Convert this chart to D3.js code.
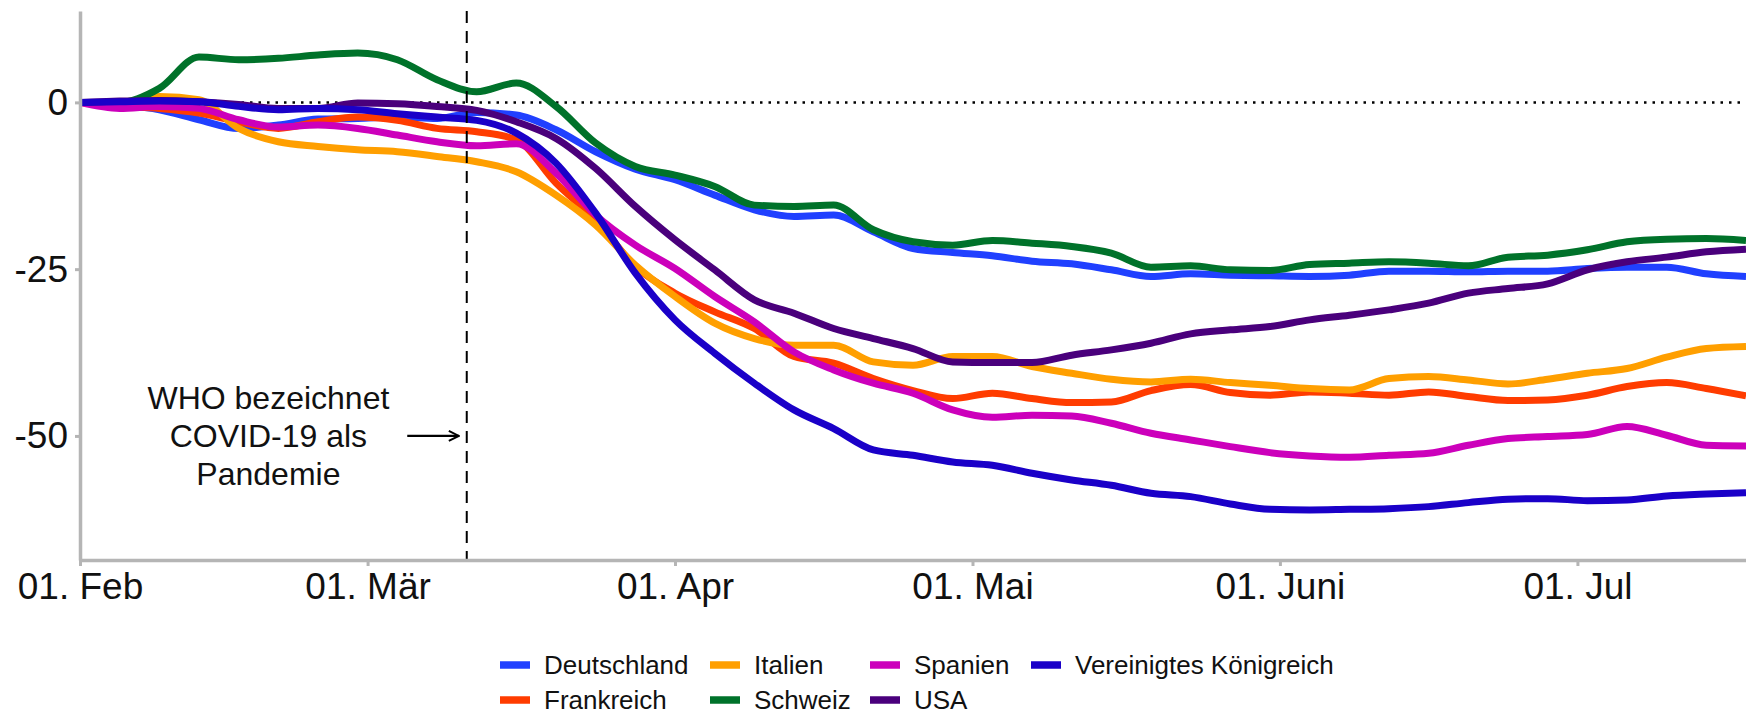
<!DOCTYPE html>
<html>
<head>
<meta charset="utf-8">
<script src="https://cdn.jsdelivr.net/npm/d3@7"></script>
<style>
  body { margin: 0; background: #fff; }
  svg { display: block; font-family: "Liberation Sans", Arial, sans-serif; }
</style>
</head>
<body>
<div id="chart"></div>
<script>
// dates of the readings (every 4 days)
var dates = ["2020-02-01","2020-02-05","2020-02-09","2020-02-13","2020-02-17","2020-02-21","2020-02-25","2020-02-29",
  "2020-03-04","2020-03-08","2020-03-12","2020-03-16","2020-03-20","2020-03-24","2020-03-28","2020-04-01",
  "2020-04-05","2020-04-09","2020-04-13","2020-04-17","2020-04-21","2020-04-25","2020-04-29","2020-05-03",
  "2020-05-07","2020-05-11","2020-05-15","2020-05-19","2020-05-23","2020-05-27","2020-05-31","2020-06-04",
  "2020-06-08","2020-06-12","2020-06-16","2020-06-20","2020-06-24","2020-06-28","2020-07-02","2020-07-06",
  "2020-07-10","2020-07-14","2020-07-18"];

var deutschland = [0,-0.4,-1.1,-2.6,-3.9,-3.4,-2.5,-2.4,-2.2,-2.4,-1.5,-1.9,-4.1,-7.4,-10.0,-11.6,
  -13.9,-16.1,-17.1,-16.9,-19.4,-21.9,-22.5,-23.0,-23.8,-24.2,-25.1,-26.1,-25.7,-25.9,-26.0,-26.1,
  -25.9,-25.3,-25.3,-25.4,-25.3,-25.3,-24.9,-24.7,-24.7,-25.7,-26.1];
var frankreich = [0,-0.6,-0.9,-1.6,-2.9,-3.9,-2.9,-2.2,-2.7,-3.9,-4.4,-5.6,-12.1,-17.6,-24.6,-28.6,
  -31.4,-33.9,-38.1,-39.1,-41.4,-43.2,-44.4,-43.6,-44.4,-45.0,-44.9,-43.2,-42.3,-43.5,-43.9,-43.4,
  -43.6,-43.9,-43.4,-44.1,-44.7,-44.6,-43.9,-42.6,-42.0,-42.9,-44.0];
var italien = [0,-0.6,0.9,0.4,-3.9,-5.9,-6.6,-7.1,-7.4,-8.1,-8.9,-10.4,-13.9,-18.4,-24.4,-29.1,
  -33.1,-35.4,-36.4,-36.4,-38.9,-39.4,-38.1,-38.1,-39.6,-40.6,-41.5,-41.9,-41.5,-42.0,-42.4,-42.9,
  -43.1,-41.4,-41.1,-41.6,-42.2,-41.5,-40.6,-39.9,-38.2,-36.9,-36.6];
var schweiz = [0,0,2.1,6.8,6.4,6.6,7.1,7.4,6.4,3.4,1.6,2.9,-0.6,-6.1,-9.6,-10.9,
  -12.6,-15.4,-15.6,-15.4,-19.1,-20.9,-21.4,-20.7,-21.1,-21.6,-22.6,-24.7,-24.5,-25.1,-25.2,-24.3,
  -24.1,-23.9,-24.1,-24.5,-23.2,-22.9,-22.1,-20.9,-20.5,-20.4,-20.7];
var spanien = [0,-0.9,-0.6,-0.9,-2.6,-3.7,-3.4,-3.9,-4.9,-5.9,-6.5,-6.2,-10.6,-16.9,-21.4,-24.9,
  -29.1,-32.9,-37.4,-40.1,-42.1,-43.6,-46.1,-47.2,-46.9,-47.0,-48.1,-49.6,-50.6,-51.6,-52.5,-53.0,
  -53.2,-52.9,-52.6,-51.4,-50.4,-50.1,-49.8,-48.6,-49.9,-51.4,-51.5];
var usa = [0,0.2,0.3,0.1,-0.3,-0.9,-0.9,-0.1,-0.2,-0.6,-1.2,-2.9,-5.4,-9.9,-15.6,-20.6,
  -25.1,-29.6,-31.6,-33.9,-35.4,-36.9,-38.9,-39.0,-39.0,-37.9,-37.1,-36.1,-34.7,-34.1,-33.6,-32.6,
  -31.9,-31.1,-30.1,-28.6,-27.9,-27.2,-25.1,-23.9,-23.2,-22.4,-22.0];
var vereinigtesKoenigreich = [0,0.1,0.2,0.1,-0.6,-1.1,-0.9,-1.1,-1.7,-2.2,-2.7,-4.6,-9.1,-16.6,-25.6,-32.6,
  -37.6,-42.1,-46.1,-48.9,-52.1,-52.9,-53.9,-54.4,-55.6,-56.6,-57.4,-58.6,-59.1,-60.2,-61.0,-61.1,
  -61.0,-60.9,-60.6,-60.0,-59.5,-59.4,-59.7,-59.6,-59.0,-58.7,-58.5];

var countries = ["Deutschland","Frankreich","Italien","Schweiz","Spanien","USA","Vereinigtes Königreich"];
var colors = ["#2040FF","#FF3C00","#FF9F00","#00722A","#CC00BB","#4A007C","#1A00C8"];

// axis ticks
var monthTicks = ["2020-02-01","2020-03-01","2020-04-01","2020-05-01","2020-06-01","2020-07-01"];
var monthLabels = ["01. Feb","01. Mär","01. Apr","01. Mai","01. Juni","01. Jul"];
var yTicks = [0, -25, -50];

// annotation
var pandemicDate = "2020-03-11";
var annotationLines = ["WHO bezeichnet", "COVID-19 als", "Pandemie"];

var margin = {top: 11, right: 0, bottom: 154, left: 80},
    width = 1746 - margin.left - margin.right,
    height = 714 - margin.top - margin.bottom;

var parse = d3.utcParse("%Y-%m-%d");
var values = [deutschland, frankreich, italien, schweiz, spanien, usa, vereinigtesKoenigreich];
var series = countries.map(function(name, i) {
  return {name: name, color: colors[i], points: dates.map(function(d, j) {
    return {date: parse(d), value: values[i][j]};
  })};
});

var svg = d3.select("#chart")
  .append("svg")
    .attr("width", width + margin.left + margin.right)
    .attr("height", height + margin.top + margin.bottom);

var g = svg.append("g")
    .attr("transform", "translate(" + margin.left + "," + margin.top + ")");

var x = d3.scaleUtc()
    .domain([parse(dates[0]), parse(dates[dates.length - 1])])
    .range([0, width]);

var y = d3.scaleLinear()
    .domain([-68.6, 13.7])
    .range([height, 0]);

// zero line
g.append("line")
    .attr("x1", 0).attr("x2", width)
    .attr("y1", y(0)).attr("y2", y(0))
    .attr("stroke", "#000")
    .attr("stroke-width", 2.5)
    .attr("stroke-dasharray", "2.5,6");

// lines
var line = d3.line()
    .curve(d3.curveMonotoneX)
    .x(function(d) { return x(d.date); })
    .y(function(d) { return y(d.value); });

g.selectAll(".series")
  .data(series)
  .enter().append("path")
    .attr("class", "series")
    .attr("fill", "none")
    .attr("stroke", function(d) { return d.color; })
    .attr("stroke-width", 7)
    .attr("stroke-linejoin", "round")
    .attr("d", function(d) { return line(d.points); });

// vertical marker
g.append("line")
    .attr("x1", x(parse(pandemicDate))).attr("x2", x(parse(pandemicDate)))
    .attr("y1", 0).attr("y2", height)
    .attr("stroke", "#000")
    .attr("stroke-width", 2)
    .attr("stroke-dasharray", "12,8");

// axes
var xAxis = g.append("g")
    .attr("transform", "translate(0," + height + ")")
    .call(d3.axisBottom(x)
      .tickValues(monthTicks.map(parse))
      .tickFormat(function(d, i) { return monthLabels[i]; })
      .tickSize(6).tickPadding(7).tickSizeOuter(0));

var yAxis = g.append("g")
    .call(d3.axisLeft(y)
      .tickValues(yTicks)
      .tickFormat(function(d) { return String(d); })
      .tickSize(5).tickPadding(7).tickSizeOuter(0));

[xAxis, yAxis].forEach(function(a) {
  a.select(".domain").attr("stroke", "#b5b5b5").attr("stroke-width", 3.5);
  a.selectAll(".tick line").attr("stroke", "#b5b5b5").attr("stroke-width", 3);
  a.selectAll(".tick text").attr("fill", "#111").style("font-size", "37px")
    .style("font-family", "'Liberation Sans', Arial, sans-serif");
});

// annotation text with arrow
svg.append("defs").append("marker")
    .attr("id", "head")
    .attr("viewBox", "0 0 12 12")
    .attr("refX", 11).attr("refY", 6)
    .attr("markerWidth", 12).attr("markerHeight", 12)
    .attr("markerUnits", "userSpaceOnUse")
    .attr("orient", "auto")
  .append("path")
    .attr("d", "M1,1 L11,6 L1,11")
    .attr("fill", "none")
    .attr("stroke", "#000")
    .attr("stroke-width", 2);

g.append("line")
    .attr("x1", x(parse("2020-03-05"))).attr("x2", x(parse("2020-03-10")) + 2)
    .attr("y1", y(-50)).attr("y2", y(-50))
    .attr("stroke", "#000")
    .attr("stroke-width", 2.2)
    .attr("marker-end", "url(#head)");

g.append("text")
    .attr("x", x(parse("2020-02-20")))
    .attr("y", y(-50))
    .attr("text-anchor", "middle")
    .style("font-size", "32px")
    .attr("fill", "#111")
  .selectAll("tspan")
  .data(annotationLines)
  .enter().append("tspan")
    .attr("x", x(parse("2020-02-20")))
    .attr("dy", function(d, i) { return i == 0 ? "-0.84em" : "1.19em"; })
    .text(function(d) { return d; });

// legend
var legendPos = [[500, 665], [500, 700], [710, 665], [710, 700], [870, 665], [870, 700], [1031, 665]];
var legend = svg.selectAll(".legend")
  .data(series)
  .enter().append("g")
    .attr("class", "legend")
    .attr("transform", function(d, i) { return "translate(" + legendPos[i][0] + "," + legendPos[i][1] + ")"; });

legend.append("line")
    .attr("x1", 0).attr("x2", 30)
    .attr("stroke", function(d) { return d.color; })
    .attr("stroke-width", 7.5);

legend.append("text")
    .attr("x", 44)
    .attr("dy", "0.36em")
    .style("font-size", "26px")
    .attr("fill", "#111")
    .text(function(d) { return d.name; });
</script>
</body>
</html>
